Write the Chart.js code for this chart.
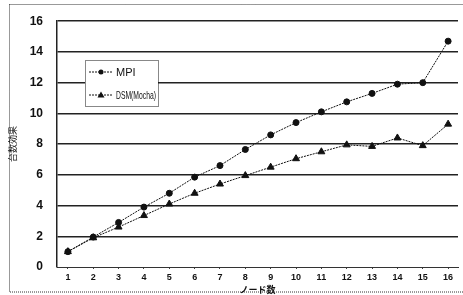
<!DOCTYPE html>
<html>
<head>
<meta charset="utf-8">
<script src="https://cdn.jsdelivr.net/npm/chart.js@4/dist/chart.umd.min.js"></script>
<style>
  html, body { margin: 0; padding: 0; background: #fff; }
  #wrap { width: 463px; height: 295px; position: relative; }
</style>
</head>
<body>
<div id="wrap"><canvas id="chart-speedup"></canvas></div>
<script>
const nodes = [1, 2, 3, 4, 5, 6, 7, 8, 9, 10, 11, 12, 13, 14, 15, 16];
const mpi = [1.0, 1.95, 2.9, 3.9, 4.8, 5.85, 6.6, 7.65, 8.6, 9.4, 10.1, 10.75, 11.3, 11.9, 12.0, 14.7];
const dsm = [1.0, 1.9, 2.6, 3.35, 4.1, 4.8, 5.4, 5.95, 6.5, 7.05, 7.5, 7.95, 7.85, 8.4, 7.9, 9.3];
const yTicks = [0, 2, 4, 6, 8, 10, 12, 14, 16];

const ink = '#111';

// dotted frame round the whole figure
const framePlugin = {
  id: 'frame',
  beforeDraw(chart) {
    const c = chart.ctx;
    c.save();
    c.fillStyle = '#fff';
    c.fillRect(0, 0, chart.width, chart.height);
    c.strokeStyle = '#333';
    c.lineWidth = 1;
    c.setLineDash([1, 1]);
    c.strokeRect(9.5, 4.5, 460, 287.5);
    c.restore();
  }
};

// legend box inside the plot, like the original
const boxLegend = {
  id: 'boxLegend',
  afterDatasetsDraw(chart) {
    const c = chart.ctx;
    const x = 85, y = 60, w = 73, h = 46;
    c.save();
    c.fillStyle = '#fff';
    c.fillRect(x, y, w, h);
    c.strokeStyle = ink;
    c.lineWidth = 1;
    c.setLineDash([1, 1]);
    c.strokeRect(x + 0.5, y + 0.5, w, h);
    c.setLineDash([]);
    c.font = '11px "Liberation Sans", Arial, sans-serif';
    c.textBaseline = 'middle';
    chart.data.datasets.forEach((ds, i) => {
      const ly = y + 12 + i * 23;
      c.strokeStyle = ink;
      c.setLineDash([2, 1]);
      c.beginPath();
      c.moveTo(x + 4, ly);
      c.lineTo(x + 28, ly);
      c.stroke();
      c.setLineDash([]);
      c.fillStyle = ink;
      c.beginPath();
      if (ds.pointStyle === 'triangle') {
        c.moveTo(x + 16, ly - 3.5);
        c.lineTo(x + 19.5, ly + 2.5);
        c.lineTo(x + 12.5, ly + 2.5);
        c.closePath();
      } else {
        c.arc(x + 16, ly, 2.5, 0, Math.PI * 2);
      }
      c.fill();
      c.fillText(ds.label, x + 31, ly + 1, 40);
    });
    c.restore();
  }
};

new Chart(document.getElementById('chart-speedup'), {
  type: 'line',
  data: {
    datasets: [
      {
        label: 'MPI',
        data: nodes.map((n, i) => ({ x: n, y: mpi[i] })),
        borderColor: ink,
        backgroundColor: ink,
        borderWidth: 1,
        borderDash: [2, 1],
        pointStyle: 'circle',
        pointRadius: 3,
        tension: 0
      },
      {
        label: 'DSM(Mocha)',
        data: nodes.map((n, i) => ({ x: n, y: dsm[i] })),
        borderColor: ink,
        backgroundColor: ink,
        borderWidth: 1,
        borderDash: [2, 1],
        pointStyle: 'triangle',
        pointRadius: 4,
        tension: 0
      }
    ]
  },
  plugins: [framePlugin, boxLegend],
  options: {
    responsive: true,
    maintainAspectRatio: false,
    animation: false,
    layout: { padding: { top: 15, right: 0, bottom: 0, left: 0 } },
    plugins: {
      legend: { display: false },
      tooltip: { enabled: false }
    },
    scales: {
      x: {
        type: 'linear',
        min: 0.57,
        max: 16.39,
        afterBuildTicks: axis => { axis.ticks = nodes.map(v => ({ value: v })); },
        afterFit: scale => { scale.height = 28; },
        grid: {
          display: true,
          drawOnChartArea: false,
          drawTicks: true,
          tickLength: 2,
          color: '#444'
        },
        border: { display: true, color: '#333', dash: [2, 1] },
        ticks: {
          color: ink,
          padding: 3,
          maxRotation: 0,
          autoSkip: false,
          font: { family: '"Liberation Sans", Arial, sans-serif', size: 9, weight: 'bold' }
        },
        title: {
          display: true,
          text: 'ノード数',
          color: ink,
          padding: { top: 0, bottom: 0 },
          font: { family: '"Noto Sans CJK JP", sans-serif', size: 9, weight: 'bold' }
        }
      },
      y: {
        min: 0,
        max: 16,
        afterBuildTicks: axis => { axis.ticks = yTicks.map(v => ({ value: v })); },
        afterFit: scale => { scale.width = 57; },
        grid: {
          color: ctx => ctx.tick.value === 0 ? 'rgba(0,0,0,0)' : '#222',
          lineWidth: 1.5,
          drawTicks: false
        },
        border: { display: true, color: '#222', width: 1.5 },
        ticks: {
          color: ink,
          padding: 14,
          font: { family: '"Liberation Sans", Arial, sans-serif', size: 12, weight: 'bold' }
        },
        title: {
          display: true,
          text: '台数効果',
          color: ink,
          padding: { top: 7, bottom: 0 },
          font: { family: '"Noto Sans CJK JP", sans-serif', size: 9 }
        }
      }
    }
  }
});
</script>
</body>
</html>
